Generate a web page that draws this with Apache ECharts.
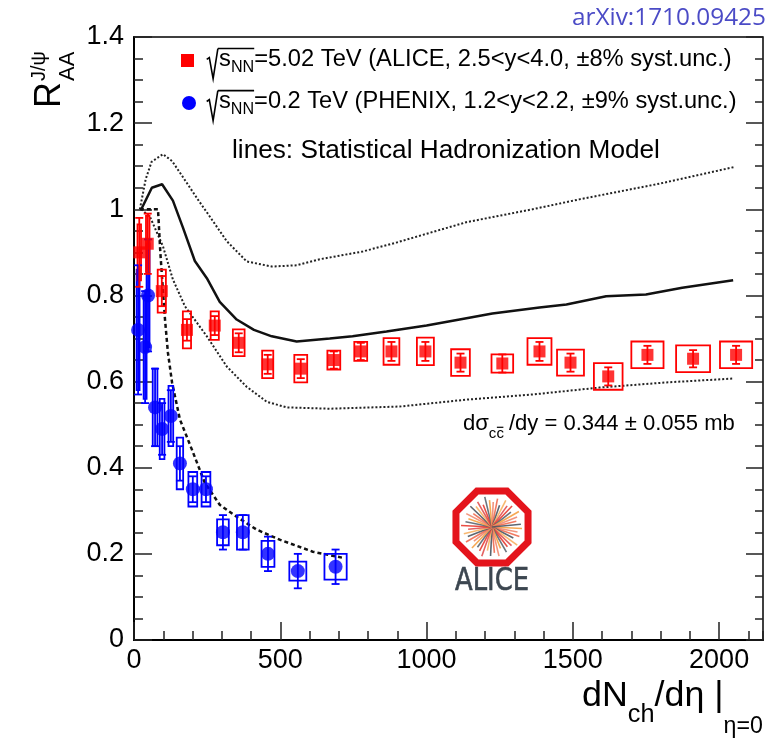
<!DOCTYPE html>
<html>
<head>
<meta charset="utf-8">
<script src="https://cdn.jsdelivr.net/npm/echarts@6/dist/echarts.min.js"></script>
<style>
  html, body { margin: 0; padding: 0; background: #fff; }
  #chart { width: 773px; height: 739px; }
</style>
</head>
<body>
<div id="chart"></div>
<script>
// ALICE, sqrt(sNN) = 5.02 TeV : dNch/deta, RAA, stat. error, syst box half-width (x), syst (y)
const aliceX = [18, 47, 95, 181, 276, 358, 457, 570, 683, 775, 880, 996, 1116, 1259, 1386, 1492, 1621, 1755, 1911, 2058];
const aliceY = [0.90, 0.92, 0.81, 0.72, 0.73, 0.69, 0.64, 0.63, 0.65, 0.67, 0.67, 0.67, 0.644, 0.642, 0.67, 0.644, 0.612, 0.662, 0.653, 0.662];
const aliceStat = [0.08, 0.07, 0.035, 0.025, 0.022, 0.022, 0.022, 0.022, 0.02, 0.02, 0.022, 0.022, 0.021, 0.021, 0.022, 0.021, 0.021, 0.021, 0.02, 0.021];
const aliceSystX = [6, 6, 14, 14, 14, 20, 19, 22, 22, 22, 27, 29, 32, 37, 41, 46, 49, 55, 58, 55];
const aliceSystY = [0.065, 0.065, 0.05, 0.043, 0.033, 0.031, 0.032, 0.032, 0.022, 0.022, 0.031, 0.032, 0.031, 0.021, 0.031, 0.03, 0.031, 0.031, 0.031, 0.031];

// PHENIX, sqrt(sNN) = 0.2 TeV
const phenixX = [14, 38, 48, 72, 96, 126, 157, 201, 246, 304, 372, 458, 560, 689];
const phenixY = [0.72, 0.68, 0.80, 0.54, 0.49, 0.52, 0.41, 0.35, 0.35, 0.25, 0.25, 0.20, 0.16, 0.17];
const phenixStat = [0.15, 0.13, 0.13, 0.09, 0.06, 0.06, 0.04, 0.03, 0.03, 0.04, 0.04, 0.04, 0.04, 0.04];
const phenixSystX = [5, 5, 5, 8, 8, 8, 11, 15, 15, 20, 20, 22, 29, 38];
const phenixSystY = [0.14, 0.12, 0.12, 0.09, 0.07, 0.07, 0.06, 0.04, 0.04, 0.03, 0.04, 0.03, 0.022, 0.03];

// statistical hadronization model, LHC (central + band) and RHIC
const shmX = [25, 61, 96, 133, 167, 208, 249, 293, 351, 410, 471, 556, 669, 747, 863, 1000, 1113, 1225, 1386, 1478, 1614, 1750, 1874, 2048];
const shmY = [1.0, 1.05, 1.058, 1.02, 0.958, 0.88, 0.84, 0.785, 0.744, 0.72, 0.705, 0.693, 0.70, 0.705, 0.716, 0.73, 0.744, 0.758, 0.772, 0.779, 0.798, 0.802, 0.818, 0.835];
const shmHiX = [20, 40, 60, 99, 130, 167, 218, 249, 317, 385, 471, 556, 635, 782, 898, 1136, 1362, 1522, 1800, 2051];
const shmHiY = [1.0, 1.07, 1.11, 1.128, 1.112, 1.075, 1.023, 0.993, 0.926, 0.879, 0.867, 0.870, 0.884, 0.902, 0.923, 0.97, 1.0, 1.023, 1.06, 1.098];
const shmLoX = [25, 55, 99, 133, 174, 249, 317, 385, 454, 522, 669, 908, 1136, 1362, 1590, 1819, 2048];
const shmLoY = [1.0, 0.982, 0.914, 0.837, 0.775, 0.705, 0.635, 0.588, 0.553, 0.54, 0.537, 0.542, 0.558, 0.57, 0.586, 0.598, 0.607];
const shmRhicX = [20, 82, 90, 100, 106, 116, 130, 157, 198, 242, 293, 351, 420, 498, 611, 720];
const shmRhicY = [1.0, 1.0, 0.9, 0.8, 0.744, 0.667, 0.598, 0.512, 0.442, 0.365, 0.314, 0.286, 0.256, 0.233, 0.205, 0.19];

const xTickLabels = ["0", "500", "1000", "1500", "2000"];
const yTickLabels = ["0", "0.2", "0.4", "0.6", "0.8", "1", "1.2", "1.4"];

const FAM = '"Liberation Sans", Arial, sans-serif';
const RED = "#ff0000";
const BLUE = "#0000ff";

const meas = document.createElement("canvas").getContext("2d");
function tw(t, s, fam) {
  meas.font = s + "px " + (fam || FAM);
  return meas.measureText(t).width;
}

function runWidth(parts) {
  let w = 0;
  parts.forEach((p) => {
    w += p.sqrt ? 0.55 * p.s : tw(p.t, p.s, p.fam) + (p.gap || 0);
  });
  return w;
}

// lays out a line of text pieces (sub/superscripts, radical, bars) on a baseline
function textRun(x0, x1, base, parts, color) {
  const k = x1 ? (x1 - x0) / runWidth(parts) : 1;
  const els = [];
  let cx = x0;
  let ov = null;
  parts.forEach((p) => {
    const s = p.s * k;
    const dy = (p.dy || 0) * k;
    if (p.sqrt) {
      const top = base - 0.82 * s;
      const bot = base + 0.45 * s;
      els.push({
        type: "polyline", silent: true,
        shape: { points: [[cx + 0.03 * s, base - 0.36 * s], [cx + 0.14 * s, base - 0.44 * s], [cx + 0.3 * s, bot], [cx + 0.5 * s, top]] },
        style: { stroke: color, lineWidth: 1.6, fill: "none" },
      });
      ov = [cx + 0.5 * s, top];
      cx += 0.55 * s;
      return;
    }
    const w = tw(p.t, s, p.fam);
    els.push({
      type: "text", silent: true, x: cx, y: base + dy - 0.35 * s,
      style: { text: p.t, fill: color, font: s + "px " + (p.fam || FAM), verticalAlign: "middle", textVerticalAlign: "middle" },
    });
    if (p.bar) {
      const yb = base + dy - 0.78 * s;
      els.push({ type: "line", silent: true, shape: { x1: cx + 0.5, y1: yb, x2: cx + w - 0.5, y2: yb }, style: { stroke: color, lineWidth: 1.2 } });
    }
    cx += w + (p.gap || 0) * k;
    if (p.endOv && ov) {
      els.push({ type: "line", silent: true, shape: { x1: ov[0], y1: ov[1], x2: cx, y2: ov[1] }, style: { stroke: color, lineWidth: 1.6 } });
    }
  });
  return els;
}

function zip(xs, ys) {
  return xs.map((x, i) => [x, ys[i]]);
}

function boxSeries(xs, ys, ex, ey, color) {
  return {
    type: "custom", silent: true, z: 3,
    data: xs.map((x, i) => [x, ys[i], ex[i], ey[i]]),
    encode: { x: 0, y: 1 },
    renderItem: (params, api) => {
      const a = api.coord([api.value(0) - api.value(2), api.value(1) + api.value(3)]);
      const b = api.coord([api.value(0) + api.value(2), api.value(1) - api.value(3)]);
      return {
        type: "rect",
        shape: { x: a[0], y: a[1], width: b[0] - a[0], height: b[1] - a[1] },
        style: { fill: "none", stroke: color, lineWidth: 1.8 },
      };
    },
  };
}

function errSeries(xs, ys, es, color) {
  return {
    type: "custom", silent: true, z: 3,
    data: xs.map((x, i) => [x, ys[i], es[i]]),
    encode: { x: 0, y: 1 },
    renderItem: (params, api) => {
      const x = api.value(0), y = api.value(1), e = api.value(2);
      const t = api.coord([x, y + e]);
      const b = api.coord([x, y - e]);
      const st = { stroke: color, lineWidth: 1.8 };
      return {
        type: "group",
        children: [
          { type: "line", shape: { x1: t[0], y1: t[1], x2: b[0], y2: b[1] }, style: st },
          { type: "line", shape: { x1: t[0] - 4, y1: t[1], x2: t[0] + 4, y2: t[1] }, style: st },
          { type: "line", shape: { x1: b[0] - 4, y1: b[1], x2: b[0] + 4, y2: b[1] }, style: st },
        ],
      };
    },
  };
}

function lineSeries(xs, ys, width, type, color) {
  return {
    type: "line", silent: true, z: 2,
    data: zip(xs, ys),
    showSymbol: false, symbol: "none",
    lineStyle: { color: color, width: width, type: type },
  };
}

// ALICE logo
function aliceLogo(cx, cy) {
  const els = [];
  const R = 39;
  const pts = [];
  for (let i = 0; i < 8; i++) {
    const a = (22.5 + 45 * i) * Math.PI / 180;
    pts.push([cx + R * Math.cos(a), cy + R * Math.sin(a)]);
  }
  const cols = ["#f5a040", "#4a5560", "#e83a30", "#f08a70", "#f7b060", "#5a6570", "#f06a50", "#e05050"];
  const lens = [30, 26, 29, 24, 31, 27, 25, 29, 23];
  for (let i = 0; i < 44; i++) {
    const a = i * (360 / 44) * Math.PI / 180 + 0.05;
    const L = lens[i % lens.length];
    els.push({
      type: "line", silent: true,
      shape: { x1: cx, y1: cy, x2: cx + L * Math.cos(a), y2: cy + L * Math.sin(a) },
      style: { stroke: cols[(i * 3) % cols.length], lineWidth: 1.6, opacity: 0.9 },
    });
  }
  els.push({ type: "polygon", silent: true, shape: { points: pts }, style: { fill: "none", stroke: "#e4141c", lineWidth: 7, lineJoin: "miter" } });
  const aw = tw("ALICE", 30, '"DejaVu Sans"');
  els.push({
    type: "text", silent: true, x: cx, y: cy + 55, scaleX: 74 / aw, scaleY: 1.05,
    style: { text: "ALICE", fill: "#3c4650", font: '500 30px "DejaVu Sans"', align: "center", textAlign: "center", verticalAlign: "middle", textVerticalAlign: "middle", stroke: "#3c4650", lineWidth: 0.6 },
  });
  return els;
}

const chart = echarts.init(document.getElementById("chart"));

const tickStyle = { color: "#222", width: 1.5 };

// rotated y title: R_AA^{J/psi}
const rW = tw("R", 36);
const yTitle = {
  type: "group", x: 63, y: 108, rotation: Math.PI / 2,
  children: [
    ...textRun(0, null, 0, [{ t: "R", s: 36 }], "#000"),
    ...textRun(rW + 1, null, 13, [{ t: "AA", s: 22 }], "#000"),
    ...textRun(rW + 1, null, -17, [{ t: "J/ψ", s: 20 }], "#000"),
  ],
};

const graphics = [
  // legend markers
  { type: "rect", silent: true, shape: { x: 181, y: 54, width: 13, height: 13 }, style: { fill: RED } },
  { type: "circle", silent: true, shape: { cx: 189, cy: 103, r: 7 }, style: { fill: BLUE } },
  ...textRun(206, 732, 68, [
    { sqrt: true, s: 22 }, { t: "s", s: 22 }, { t: "NN", s: 15, dy: 5, endOv: true },
    { t: "=5.02 TeV (ALICE, 2.5<y<4.0, ±8% syst.unc.)", s: 22 },
  ], "#000"),
  ...textRun(206, 737, 110, [
    { sqrt: true, s: 22 }, { t: "s", s: 22 }, { t: "NN", s: 15, dy: 5, endOv: true },
    { t: "=0.2 TeV (PHENIX, 1.2<y<2.2, ±9% syst.unc.)", s: 22 },
  ], "#000"),
  ...textRun(232, 660, 160, [{ t: "lines: Statistical Hadronization Model", s: 25 }], "#000"),
  ...textRun(463, 735, 432, [
    { t: "dσ", s: 22 }, { t: "c", s: 15, dy: 7 }, { t: "c", s: 15, dy: 7, bar: true, gap: 5 },
    { t: "/dy = 0.344 ± 0.055 mb", s: 22 },
  ], "#000"),
  ...textRun(572, 766, 27, [{ t: "arXiv:1710.09425", s: 20, fam: '"Open Sans"' }], "#4b4bc6"),
  ...textRun(582, 763, 709, [
    { t: "dN", s: 34 }, { t: "ch", s: 24, dy: 14 }, { t: "/dη ", s: 34 }, { t: "|", s: 34 },
    { t: "η=0", s: 22, dy: 24 },
  ], "#000"),
  yTitle,
  ...aliceLogo(492, 527),
];

chart.setOption({
  animation: false,
  backgroundColor: "#fff",
  grid: { left: 134, right: 10, top: 37, bottom: 99, show: true, borderColor: "#000", borderWidth: 1.5 },
  xAxis: [
    {
      type: "value", min: 0, max: 2150, interval: 500, position: "bottom",
      axisLine: { show: true, onZero: false, lineStyle: { color: "#000", width: 2 } },
      axisTick: { inside: true, length: 18, lineStyle: tickStyle },
      splitLine: { show: false },
      axisLabel: {
        fontSize: 27, color: "#000", fontFamily: FAM, margin: 7, showMaxLabel: false,
        formatter: (v) => xTickLabels[Math.round(v / 500)] || "",
      },
    },
    {
      type: "value", min: 0, max: 2150, interval: 100, position: "bottom",
      axisLine: { show: false, onZero: false },
      axisTick: { inside: true, length: 9, lineStyle: tickStyle },
      axisLabel: { show: false }, splitLine: { show: false },
    },
  ],
  yAxis: [
    {
      type: "value", min: 0, max: 1.4, interval: 0.2, position: "left",
      axisLine: { show: true, onZero: false, lineStyle: { color: "#000", width: 2 } },
      axisTick: { inside: true, length: 18, lineStyle: tickStyle },
      minorTick: { show: true, splitNumber: 4, length: 9, lineStyle: tickStyle },
      splitLine: { show: false }, minorSplitLine: { show: false },
      axisLabel: {
        fontSize: 27, color: "#000", fontFamily: FAM, margin: 10,
        formatter: (v) => yTickLabels[Math.round(v / 0.2)] || "",
      },
    },
    {
      type: "value", min: 0, max: 1.4, interval: 0.2, position: "right",
      axisLine: { show: false, onZero: false },
      axisTick: { inside: true, length: 17, lineStyle: tickStyle },
      minorTick: { show: true, splitNumber: 4, length: 8, lineStyle: tickStyle },
      splitLine: { show: false }, minorSplitLine: { show: false },
      axisLabel: { show: false },
    },
  ],
  graphic: { elements: graphics },
  series: [
    lineSeries(shmHiX, shmHiY, 2, [2, 2], "#222"),
    lineSeries(shmLoX, shmLoY, 2, [2, 2], "#222"),
    lineSeries(shmX, shmY, 2.5, "solid", "#111"),
    lineSeries(shmRhicX, shmRhicY, 2.5, [4, 3], "#111"),
    boxSeries(phenixX, phenixY, phenixSystX, phenixSystY, BLUE),
    boxSeries(aliceX, aliceY, aliceSystX, aliceSystY, RED),
    errSeries(phenixX, phenixY, phenixStat, BLUE),
    errSeries(aliceX, aliceY, aliceStat, RED),
    {
      type: "scatter", silent: true, z: 4, data: zip(phenixX, phenixY),
      symbol: "circle", symbolSize: 14, itemStyle: { color: BLUE },
    },
    {
      type: "scatter", silent: true, z: 4, data: zip(aliceX, aliceY),
      symbol: "rect", symbolSize: 12, itemStyle: { color: RED },
    },
  ],
});
</script>
</body>
</html>
